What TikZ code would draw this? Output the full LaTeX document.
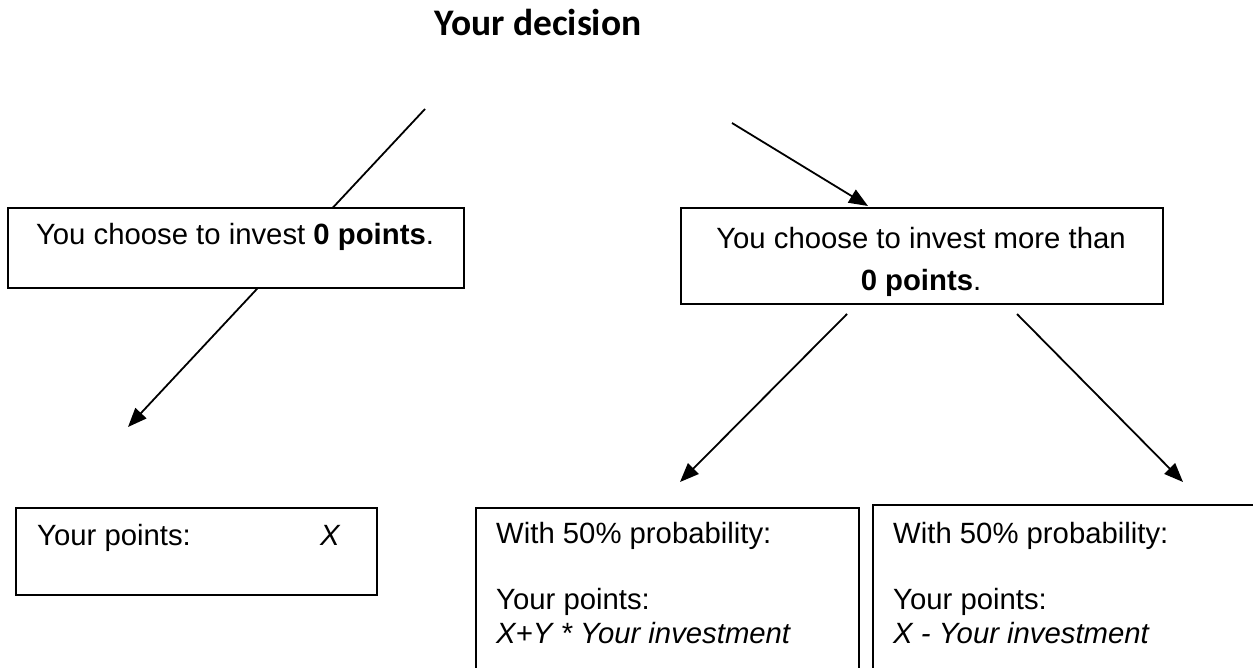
\documentclass[tikz,border=0pt]{standalone}
\usepackage{fontspec}
\setmainfont{Liberation Sans}
\newfontfamily\titlefont{Carlito}
\usetikzlibrary{arrows.meta}
\begin{document}
\begin{tikzpicture}[x=1pt,y=-1pt,
  box/.style={draw, line width=1.8pt, fill=white, inner sep=0pt, anchor=north west},
  conn/.style={line width=1.8pt, -{Triangle[length=19pt,width=15pt]}},
  body/.style={font=\fontsize{29.3}{34}\selectfont, inner sep=0pt},
  titletext/.style={font=\titlefont\bfseries\fontsize{37.5}{45}\selectfont, inner sep=0pt}]
\useasboundingbox (0,0) rectangle (1253,667);
\clip (0,0) rectangle (1253,667);
% free ends of connectors
\coordinate (lt) at (425,109);
\coordinate (lb) at (128,427);
\coordinate (rt) at (732,123);
\coordinate (rtip) at (868,206);
\coordinate (ra) at (847,314);
\coordinate (rab) at (680,482);
\coordinate (rb) at (1017,314);
\coordinate (rbb) at (1183,482);
% line behind the left box
\draw[conn] (lt) -- (lb);
% title
\node[titletext, anchor=base] (title) at (538,35) {Your decision};
% top boxes
\node[box, minimum width=456pt, minimum height=80pt] (zero) at (7,207) {};
\node[body, anchor=base] (zerotxt) at (235,244) {You choose to invest \textbf{0 points}.};
\node[box, minimum width=482pt, minimum height=96pt] (more) at (680,207) {};
\node[body, anchor=base] (moretxta) at (921,248) {You choose to invest more than};
\node[body, anchor=base] (moretxtb) at (921,290) {\textbf{0 points}.};
\draw[conn] (rt) -- (rtip);
\draw[conn] (ra) -- (rab);
\draw[conn] (rb) -- (rbb);
% bottom boxes
\node[box, minimum width=361pt, minimum height=87pt] (pts) at (15,507) {};
\node[body, anchor=base west] (ptsa) at (37,545) {Your points:};
\node[body, anchor=base west] (ptsb) at (320,545) {\textit{X}};
\node[box, minimum width=383pt, minimum height=250pt] (win) at (475,507) {};
\node[body, anchor=base west] (wina) at (496,543) {With 50\% probability:};
\node[body, anchor=base west] (winb) at (496,609) {Your points:};
\node[body, anchor=base west] (winc) at (496,643) {\textit{X+Y * Your investment}};
\node[box, minimum width=450pt, minimum height=250pt] (lose) at (872,504) {};
\node[body, anchor=base west] (losea) at (893,543) {With 50\% probability:};
\node[body, anchor=base west] (loseb) at (893,609) {Your points:};
\node[body, anchor=base west] (losec) at (893,643) {\textit{X - Your investment}};
\end{tikzpicture}
\end{document}
